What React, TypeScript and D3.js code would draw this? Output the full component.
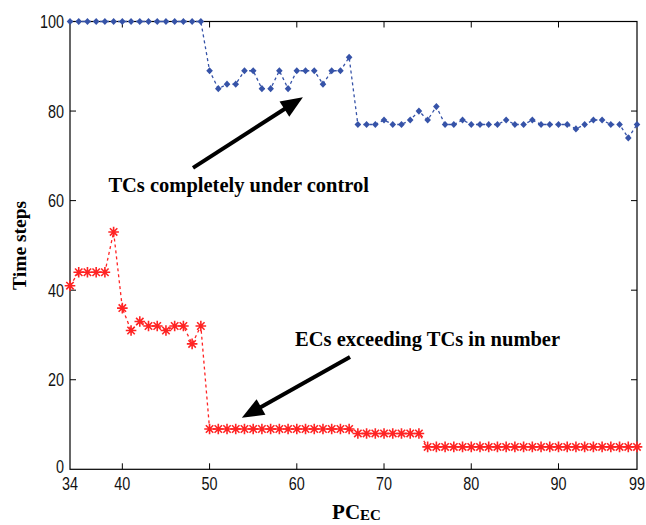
import React from 'react';
import * as d3 from 'd3';

// x values run 34..99, one point per step
const pcEC = d3.range(34, 100);

// TCs completely under control (blue diamonds)
const tcSteps = [
  100, 100, 100, 100, 100, 100, 100, 100, 100, 100, 100, 100, 100, 100, 100, 100,
  89, 85, 86, 86, 89, 89, 85, 85, 89, 85, 89, 89, 89, 86, 89, 89, 92,
  77, 77, 77, 78, 77, 77, 78, 80, 78, 81, 77, 77, 78, 77, 77, 77, 77, 78,
  77, 77, 78, 77, 77, 77, 77, 76, 77, 78, 78, 77, 77, 74, 77,
];

// ECs exceeding TCs in number (red asterisks)
const ecSteps = [
  41, 44, 44, 44, 44, 53, 36, 31, 33, 32, 32, 31, 32, 32, 28, 32,
  9, 9, 9, 9, 9, 9, 9, 9, 9, 9, 9, 9, 9, 9, 9, 9, 9,
  8, 8, 8, 8, 8, 8, 8, 8,
  5, 5, 5, 5, 5, 5, 5, 5, 5, 5, 5, 5, 5, 5, 5, 5, 5, 5, 5, 5, 5, 5, 5, 5, 5,
];

const xTicks = [34, 40, 50, 60, 70, 80, 90, 99];
const yTicks = [0, 20, 40, 60, 80, 100];

// annotations in data units: text anchor, arrow tail, arrow tip
const notes = [
  { text: 'TCs completely under control', tx: 38.4, ty: 62, from: [48.1, 67.3], to: [60.7, 83.1] },
  { text: 'ECs exceeding TCs in number', tx: 59.8, ty: 27.5, from: [66.1, 25.1], to: [53.7, 11.5] },
];

const W = 646;
const H = 525;
const margin = { left: 70, right: 9, top: 21.5, bottom: 55.7 };

const BLUE = '#3653a8';
const RED = '#ff2424';
const tickFont = '"Liberation Sans", Arial, Helvetica, sans-serif';
const serif = '"Liberation Serif", "Times New Roman", Times, serif';

const App = () => {
  const x = d3.scaleLinear().domain([34, 99]).range([margin.left, W - margin.right]);
  const y = d3.scaleLinear().domain([0, 100]).range([H - margin.bottom, margin.top]);

  const line = d3
    .line<number>()
    .x((d, i) => x(pcEC[i]))
    .y((d) => y(d));

  const [x0, x1] = x.range();
  const [y0, y1] = y.range();

  const star = (r: number) =>
    `M0,${-r}V${r}M${-r},0H${r}M${-r * 0.7},${-r * 0.7}L${r * 0.7},${r * 0.7}M${-r * 0.7},${r * 0.7}L${r * 0.7},${-r * 0.7}`;

  // narrow tick labels, like the original's condensed sans
  const tickLabel = (key: string, tx: number, ty: number, anchor: string, label: number) => (
    <text
      key={key}
      transform={`translate(${tx},${ty}) scale(0.8,1)`}
      textAnchor={anchor}
      fontFamily={tickFont}
      fontSize={18}
      fill="#111"
    >
      {label}
    </text>
  );

  const arrow = (from: number[], to: number[]) => {
    const ax = x(from[0]);
    const ay = y(from[1]);
    const bx = x(to[0]);
    const by = y(to[1]);
    const len = Math.hypot(bx - ax, by - ay);
    const ux = (bx - ax) / len;
    const uy = (by - ay) / len;
    const hl = 22;
    const hw = 9;
    const mx = bx - ux * hl;
    const my = by - uy * hl;
    return (
      <g>
        <line x1={ax} y1={ay} x2={mx + ux * 2} y2={my + uy * 2} stroke="#000" strokeWidth={4} />
        <polygon
          points={`${bx},${by} ${mx - uy * hw},${my + ux * hw} ${mx + uy * hw},${my - ux * hw}`}
          fill="#000"
        />
      </g>
    );
  };

  return (
    <svg
      width={W}
      height={H}
      style={{ position: 'absolute', left: 0, top: 0, background: '#fff' }}
    >
      {/* axes box */}
      <rect x={x0} y={y1} width={x1 - x0} height={y0 - y1} fill="none" stroke="#000" strokeWidth={1.2} />

      {xTicks.map((t) => (
        <g key={`x${t}`}>
          {t !== 34 && t !== 99 && (
            <>
              <line x1={x(t)} x2={x(t)} y1={y0} y2={y0 - 6} stroke="#000" />
              <line x1={x(t)} x2={x(t)} y1={y1} y2={y1 + 6} stroke="#000" />
            </>
          )}
          {tickLabel(`xl${t}`, x(t), y0 + 20.5, 'middle', t)}
        </g>
      ))}

      {yTicks.map((t) => (
        <g key={`y${t}`}>
          {t !== 0 && t !== 100 && (
            <>
              <line x1={x0} x2={x0 + 6} y1={y(t)} y2={y(t)} stroke="#000" />
              <line x1={x1} x2={x1 - 6} y1={y(t)} y2={y(t)} stroke="#000" />
            </>
          )}
          {tickLabel(`yl${t}`, x0 - 6, y(t) + (t === 0 ? 4 : 6.5), 'end', t)}
        </g>
      ))}

      {/* TC series */}
      <path d={line(tcSteps) || ''} fill="none" stroke={BLUE} strokeWidth={1.3} strokeDasharray="3,3" />
      {tcSteps.map((v, i) => (
        <path
          key={`tc${i}`}
          d="M0,-3.6L3.3,0L0,3.6L-3.3,0Z"
          transform={`translate(${x(pcEC[i])},${y(v)})`}
          fill={BLUE}
        />
      ))}

      {/* EC series */}
      <path d={line(ecSteps) || ''} fill="none" stroke={RED} strokeWidth={1.3} strokeDasharray="3,3" />
      {ecSteps.map((v, i) => (
        <path
          key={`ec${i}`}
          d={star(5.3)}
          transform={`translate(${x(pcEC[i])},${y(v)})`}
          fill="none"
          stroke={RED}
          strokeWidth={1.6}
        />
      ))}

      {/* annotations */}
      {notes.map((n) => (
        <g key={n.text}>
          {arrow(n.from, n.to)}
          <text x={x(n.tx)} y={y(n.ty)} fontFamily={serif} fontWeight="bold" fontSize={20.5} fill="#000">
            {n.text}
          </text>
        </g>
      ))}

      {/* axis titles */}
      <text
        transform={`translate(26,${(y0 + y1) / 2}) rotate(-90)`}
        textAnchor="middle"
        fontFamily={serif}
        fontWeight="bold"
        fontSize={19.5}
      >
        Time steps
      </text>
      <text x={(x0 + x1) / 2 + 3} y={H - 6} textAnchor="middle" fontFamily={serif} fontWeight="bold" fontSize={21}>
        PC
        <tspan fontSize={15} dy={1}>
          EC
        </tspan>
      </text>
    </svg>
  );
};

export default App;
